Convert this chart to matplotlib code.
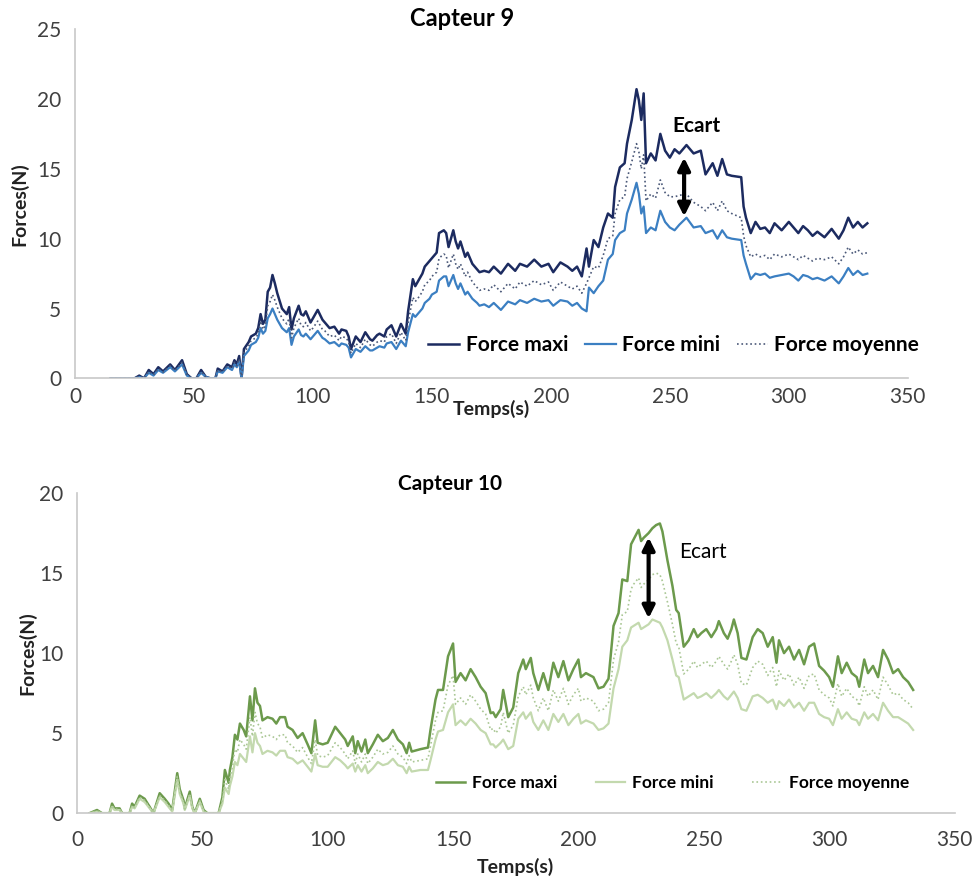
import matplotlib
matplotlib.use("Agg")
import matplotlib.pyplot as plt

plt.rcParams['font.family'] = ['Lato', 'DejaVu Sans']

# ---- DATA : Capteur 9 ----
t9 = [15, 20, 25, 27, 29, 31, 33, 35, 37, 40,
      42, 45, 47, 49, 51, 53, 55, 57, 59, 60,
      62, 64, 66, 67, 68, 69, 70, 71, 73, 74,
      76, 77, 78, 79, 80, 81, 82, 83, 84, 85,
      87, 89, 90, 91, 92, 94, 95, 96, 97, 99,
      100, 102, 104, 105, 107, 109, 111, 112, 114, 115,
      116, 118, 120, 122, 124, 125, 127, 128, 130, 131,
      133, 135, 137, 139, 140, 142, 143, 144, 146, 147,
      149, 150, 152, 153, 155, 156, 157, 159, 160, 161,
      162, 164, 165, 167, 169, 170, 172, 174, 176, 179,
      182, 185, 187, 190, 193, 196, 199, 201, 204, 207,
      209, 211, 213, 215, 216, 218, 220, 222, 224, 226,
      227, 229, 231, 232, 234, 236, 237, 238, 239, 240,
      242, 244, 246, 248, 250, 252, 254, 257, 260, 263,
      265, 268, 270, 272, 274, 276, 280, 281, 282, 284,
      286, 288, 290, 292, 294, 297, 300, 302, 304, 306,
      308, 310, 312, 315, 318, 321, 323, 325, 327, 329,
      331, 333]

maxi9 = [0.0, 0.0, 0.0, 0.2, 0.0, 0.6, 0.3, 0.8, 0.5, 1.0,
         0.6, 1.3, 0.3, 0.0, 0.0, 0.6, 0.1, 0.0, 0.0, 0.7,
         0.5, 1.0, 0.8, 1.3, 1.0, 1.6, 0.0, 2.1, 2.6, 3.0,
         3.2, 3.6, 4.6, 3.9, 4.2, 6.2, 6.5, 7.4, 6.8, 6.1,
         5.0, 4.6, 5.1, 3.5, 4.3, 5.2, 4.6, 4.5, 4.8, 4.0,
         4.3, 4.9, 4.2, 4.0, 3.6, 3.7, 3.2, 3.5, 3.4, 3.0,
         2.1, 3.0, 2.6, 3.3, 2.8, 2.7, 3.1, 3.2, 3.0, 3.5,
         3.8, 3.0, 3.9, 3.2, 4.8, 7.1, 6.6, 6.9, 7.5, 8.0,
         8.4, 8.6, 9.0, 10.4, 10.6, 10.4, 9.4, 10.6, 9.8, 9.3,
         9.8, 8.7, 9.0, 8.2, 7.8, 7.6, 7.7, 7.6, 8.0, 7.5,
         8.2, 7.7, 8.2, 8.0, 8.5, 8.0, 8.2, 7.6, 8.3, 8.0,
         7.7, 8.0, 7.3, 9.3, 8.0, 9.9, 9.4, 10.8, 11.8, 11.5,
         13.7, 15.1, 15.4, 16.8, 18.5, 20.7, 19.9, 18.5, 20.4, 15.4,
         16.1, 15.6, 17.5, 16.3, 15.8, 16.4, 16.1, 16.7, 16.1, 16.3,
         14.6, 15.4, 14.5, 15.7, 14.6, 14.5, 14.4, 12.3, 11.5, 10.4,
         11.2, 10.7, 10.8, 10.4, 11.1, 10.6, 11.2, 10.8, 10.4, 10.9,
         10.6, 10.2, 10.5, 10.1, 10.7, 10.0, 10.6, 11.5, 10.8, 11.2,
         10.8, 11.1]

mini9 = [0.0, 0.0, 0.0, 0.1, 0.0, 0.4, 0.2, 0.6, 0.4, 0.8,
         0.5, 1.0, 0.2, 0.0, 0.0, 0.4, 0.1, 0.0, 0.0, 0.5,
         0.4, 0.8, 0.6, 1.0, 0.8, 1.2, 0.0, 1.6, 2.0, 2.4,
         2.6, 2.9, 3.6, 3.2, 3.4, 4.3, 4.6, 5.0, 4.6, 4.2,
         3.6, 3.3, 3.6, 2.4, 3.0, 3.5, 3.1, 3.0, 3.2, 2.8,
         3.0, 3.4, 2.9, 2.8, 2.5, 2.6, 2.3, 2.5, 2.4, 2.2,
         1.5, 2.1, 1.9, 2.3, 2.0, 2.0, 2.2, 2.3, 2.2, 2.5,
         2.6, 2.1, 2.7, 2.3, 3.3, 4.6, 4.4, 4.6, 5.0, 5.4,
         5.7, 6.0, 6.2, 7.0, 7.3, 7.3, 6.6, 7.4, 6.8, 6.4,
         6.8, 6.0, 6.2, 5.7, 5.4, 5.2, 5.3, 5.1, 5.4, 4.9,
         5.5, 5.3, 5.6, 5.4, 5.7, 5.5, 5.6, 5.2, 5.6, 5.5,
         5.2, 5.4, 5.0, 4.8, 6.5, 6.1, 6.6, 7.0, 8.5, 8.9,
         9.9, 10.4, 10.6, 11.8, 12.8, 14.0, 13.2, 11.8, 12.3, 10.4,
         10.8, 10.6, 12.0, 11.2, 10.8, 10.6, 11.0, 11.5, 10.8, 10.9,
         10.4, 10.6, 10.0, 10.6, 10.1, 10.0, 9.9, 8.8, 8.2, 7.1,
         7.5, 7.4, 7.5, 7.2, 7.3, 7.4, 7.5, 7.3, 7.0, 7.4,
         7.3, 7.1, 7.2, 7.0, 7.3, 6.8, 7.3, 7.9, 7.4, 7.7,
         7.4, 7.5]

moy9 = [0.0, 0.0, 0.0, 0.15, 0.0, 0.5, 0.25, 0.7, 0.45, 0.9,
        0.55, 1.15, 0.25, 0.0, 0.0, 0.5, 0.1, 0.0, 0.0, 0.6,
        0.45, 0.9, 0.7, 1.15, 0.9, 1.4, 0.0, 1.85, 2.3, 2.7,
        2.9, 3.2, 4.1, 3.5, 3.8, 5.2, 5.5, 6.0, 5.6, 5.1,
        4.3, 3.9, 4.3, 2.9, 3.6, 4.3, 3.8, 3.7, 4.0, 3.4,
        3.6, 4.1, 3.5, 3.4, 3.0, 3.1, 2.7, 3.0, 2.9, 2.6,
        1.8, 2.5, 2.2, 2.8, 2.4, 2.3, 2.6, 2.7, 2.6, 3.0,
        3.2, 2.5, 3.3, 2.7, 4.0, 5.8, 5.5, 5.7, 6.2, 6.7,
        7.0, 7.3, 7.6, 8.6, 8.9, 8.8, 7.9, 8.9, 8.2, 7.8,
        8.2, 7.3, 7.6, 6.9, 6.5, 6.3, 6.4, 6.3, 6.7, 6.2,
        6.8, 6.4, 6.9, 6.6, 7.0, 6.7, 6.9, 6.3, 6.9, 6.6,
        6.4, 6.6, 6.1, 6.8, 7.2, 8.0, 7.9, 8.8, 10.0, 10.2,
        11.8, 12.8, 13.0, 14.3, 15.5, 16.8, 16.2, 15.0, 16.0, 12.7,
        13.2, 12.9, 14.2, 13.3, 13.0, 13.0, 13.1, 13.2, 12.6, 12.3,
        12.0, 12.6, 12.0, 12.7, 12.0, 11.8, 11.5, 10.2, 9.5, 8.7,
        8.9, 8.7, 8.8, 8.5, 8.9, 8.7, 8.9, 8.7, 8.5, 8.8,
        8.6, 8.4, 8.6, 8.5, 8.7, 8.2, 8.7, 9.4, 8.9, 9.2,
        8.9, 9.0]

# ---- DATA : Capteur 10 ----
t10 = [5, 8, 10, 13, 14, 15, 17, 18, 21, 22,
       23, 25, 27, 29, 30.5, 33, 35, 36.5, 38, 40,
       41, 42.5, 43, 45, 46, 47, 49, 50.5, 52, 56.5,
       58, 59, 60.5, 61, 62, 63, 64, 65, 66.5, 67.5,
       69, 70, 71, 72, 73, 74, 76, 78, 79.5, 81,
       83, 84, 86, 88, 90, 92, 93.5, 95, 96, 98,
       100, 103, 105, 107, 108, 110, 111, 112, 113.5, 115,
       116, 118, 120, 122, 124, 126, 128, 130, 131.5, 132.5,
       133.5, 137, 140, 141, 143, 144, 146, 148, 150, 151,
       153, 155, 157, 159, 161, 163, 165, 166, 167, 169,
       170, 172, 174, 176, 178, 179, 181, 182, 184, 186,
       188, 190, 192, 194, 196, 198, 200, 201, 203, 206,
       208, 210, 212, 214, 216, 217.5, 219.5, 221, 222, 224,
       225, 226, 228, 229.5, 231, 232.5, 233.5, 235.5, 237.5, 239,
       240, 242, 244, 246, 247.5, 249, 251, 253, 255, 256,
       258, 259.5, 261, 262, 263.5, 265, 267, 269.5, 271.5, 273.5,
       275.5, 277.5, 279, 280, 282, 284, 286, 288, 290, 292,
       294, 296, 298, 300, 301.5, 303.5, 305, 307, 309, 311,
       312, 314, 315.5, 317.5, 319.5, 321.5, 323.5, 325.5, 327.5, 329.5,
       331.5, 333.5]

maxi10 = [0.0, 0.2, 0.0, 0.0, 0.6, 0.3, 0.3, 0.0, 0.0, 0.6,
          0.4, 1.1, 0.9, 0.4, 0.0, 1.25, 0.9, 0.6, 0.2, 2.5,
          1.5, 0.8, 0.3, 1.35, 0.4, 0.0, 0.9, 0.2, 0.0, 0.0,
          1.0, 2.7, 1.9, 2.7, 3.5, 4.9, 4.6, 5.6, 5.2, 4.8,
          7.3, 5.8, 7.8, 6.9, 6.7, 5.8, 6.0, 5.9, 5.6, 6.0,
          6.0, 5.4, 5.2, 4.7, 5.0, 4.3, 3.75, 5.8, 4.4, 4.3,
          4.4, 5.4, 5.0, 4.6, 4.2, 4.8, 3.75, 4.5, 3.85, 4.6,
          3.75, 4.3, 4.9, 4.5, 4.7, 5.2, 4.6, 4.3, 3.75, 4.4,
          3.85, 4.0, 4.1, 5.2, 7.1, 7.7, 7.7, 9.8, 10.6, 8.2,
          8.75, 8.3, 9.0, 8.5, 7.9, 7.5, 6.25, 6.3, 6.0, 6.5,
          7.7, 6.0, 6.6, 8.75, 9.6, 9.0, 9.7, 8.75, 7.7, 8.75,
          7.7, 9.4, 8.5, 9.5, 8.3, 9.0, 9.6, 8.5, 8.75, 8.5,
          7.8, 7.9, 8.4, 11.7, 12.5, 14.6, 14.5, 16.8, 17.1, 17.7,
          17.0, 17.2, 17.5, 17.8, 18.0, 18.1, 17.6, 15.8, 14.2, 12.7,
          12.5, 10.4, 10.8, 11.5, 11.0, 11.25, 11.5, 11.0, 11.5, 12.0,
          11.25, 10.9, 11.5, 12.1, 11.25, 9.7, 9.6, 11.0, 11.5, 11.25,
          10.4, 11.0, 9.4, 10.8, 10.0, 10.4, 9.6, 10.2, 9.3, 10.4,
          10.6, 9.2, 8.9, 8.5, 7.9, 9.8, 8.75, 9.4, 8.75, 8.5,
          7.9, 9.6, 8.75, 9.2, 8.5, 10.2, 9.6, 8.75, 9.0, 8.5,
          8.2, 7.7]

mini10 = [0.0, 0.1, 0.0, 0.0, 0.4, 0.2, 0.2, 0.0, 0.0, 0.4,
          0.3, 0.9, 0.7, 0.3, 0.0, 1.0, 0.7, 0.4, 0.1, 2.1,
          1.2, 0.6, 0.2, 1.1, 0.3, 0.0, 0.7, 0.1, 0.0, 0.0,
          0.6, 1.6, 1.2, 1.7, 2.3, 3.2, 3.0, 3.7, 3.4, 3.2,
          4.8, 3.8, 5.0, 4.4, 4.2, 3.7, 3.9, 3.8, 3.6, 3.9,
          3.9, 3.5, 3.4, 3.1, 3.3, 2.9, 2.6, 3.7, 3.0, 2.9,
          2.9, 3.5, 3.3, 3.0, 2.8, 3.1, 2.6, 3.0, 2.6, 3.0,
          2.5, 2.8, 3.2, 3.0, 3.1, 3.4, 3.0, 2.9, 2.5, 2.9,
          2.6, 2.7, 2.7, 3.3, 4.6, 5.1, 5.2, 6.3, 6.8, 5.5,
          5.8, 5.5, 5.9, 5.6, 5.2, 5.0, 4.3, 4.3, 4.1, 4.4,
          4.6, 4.0, 4.2, 5.9, 6.3, 5.9, 6.3, 5.7, 5.2, 5.8,
          5.2, 6.2, 5.7, 6.2, 5.5, 5.9, 6.2, 5.6, 5.8, 5.6,
          5.2, 5.3, 5.6, 7.8, 9.0, 10.4, 10.8, 11.6, 11.7, 11.9,
          11.5, 11.6, 11.8, 12.1, 12.0, 11.9, 11.6, 10.8, 9.6, 8.6,
          8.5, 7.1, 7.3, 7.5, 7.2, 7.3, 7.5, 7.2, 7.5, 7.7,
          7.3, 7.1, 7.4, 7.6, 7.2, 6.5, 6.4, 7.3, 7.4, 7.2,
          6.9, 7.1, 6.5, 7.0, 6.7, 7.1, 6.6, 6.9, 6.4, 6.9,
          6.9, 6.2, 6.0, 5.9, 5.5, 6.5, 5.9, 6.3, 5.9, 5.8,
          5.5, 6.3, 5.9, 6.2, 5.8, 6.9, 6.4, 6.0, 6.0, 5.8,
          5.6, 5.2]

moy10 = [0.0, 0.15, 0.0, 0.0, 0.5, 0.25, 0.25, 0.0, 0.0, 0.5,
         0.35, 1.0, 0.8, 0.35, 0.0, 1.1, 0.8, 0.5, 0.15, 2.3,
         1.35, 0.7, 0.25, 1.2, 0.35, 0.0, 0.8, 0.15, 0.0, 0.0,
         0.8, 2.1, 1.5, 2.2, 2.9, 4.0, 3.8, 4.6, 4.3, 4.0,
         6.0, 4.8, 6.3, 5.6, 5.4, 4.7, 4.9, 4.8, 4.6, 4.9,
         4.9, 4.4, 4.2, 3.8, 4.1, 3.5, 3.1, 4.6, 3.6, 3.5,
         3.6, 4.4, 4.1, 3.7, 3.4, 3.9, 3.1, 3.7, 3.2, 3.7,
         3.1, 3.5, 4.0, 3.7, 3.8, 4.2, 3.7, 3.5, 3.1, 3.6,
         3.2, 3.3, 3.4, 4.2, 5.8, 6.3, 6.4, 8.0, 8.6, 6.8,
         7.2, 6.8, 7.4, 7.0, 6.5, 6.2, 5.2, 5.3, 5.0, 5.4,
         6.3, 5.0, 5.5, 7.3, 7.9, 7.4, 8.0, 7.2, 6.4, 7.2,
         6.4, 7.7, 7.0, 7.8, 6.8, 7.4, 7.8, 7.0, 7.2, 7.0,
         6.4, 6.5, 6.9, 9.6, 10.7, 12.4, 12.6, 14.0, 14.3, 14.7,
         14.1, 14.3, 14.6, 14.9, 15.0, 14.9, 14.5, 13.2, 11.8, 10.6,
         10.4, 8.7, 9.0, 9.5, 9.1, 9.3, 9.5, 9.1, 9.5, 9.8,
         9.3, 9.0, 9.5, 9.9, 9.3, 8.1, 8.0, 9.1, 9.5, 9.3,
         8.6, 9.1, 7.9, 8.9, 8.3, 8.7, 8.0, 8.5, 7.8, 8.6,
         8.7, 7.7, 7.4, 7.2, 6.7, 8.1, 7.3, 7.8, 7.3, 7.1,
         6.7, 7.9, 7.3, 7.7, 7.1, 8.5, 8.0, 7.4, 7.5, 7.1,
         6.9, 6.5]

labels = ["Force maxi", "Force mini", "Force moyenne"]

# ---- FIGURE ----
fig = plt.figure(figsize=(9.74, 8.82), dpi=100)
ax1 = fig.add_axes([0.077, 0.571, 0.855, 0.396])
ax2 = fig.add_axes([0.079, 0.078, 0.901, 0.363])


def style_axes(ax, ymax, ystep, xpad, xlabelpad, ylabelpad):
    ax.set_xlim(0, 350)
    ax.set_ylim(0, ymax)
    ax.set_xticks(range(0, 351, 50))
    ax.set_yticks(range(0, ymax + 1, ystep))
    for s in ["top", "right"]:
        ax.spines[s].set_visible(False)
    for s in ["left", "bottom"]:
        ax.spines[s].set_color("#c8c8c8")
        ax.spines[s].set_linewidth(1.2)
    ax.tick_params(length=0, labelsize=15, colors="#404040")
    ax.tick_params(axis="x", pad=xpad)
    ax.tick_params(axis="y", pad=10)
    ax.set_ylabel("Forces(N)", fontsize=14, fontweight="bold", color="#222222",
                  labelpad=ylabelpad)
    ax.set_xlabel("Temps(s)", fontsize=14, fontweight="bold", color="#222222",
                  labelpad=xlabelpad)


# ---- Capteur 9 ----
ax1.plot(t9, maxi9, color="#1c2b60", lw=1.8, label=labels[0])
ax1.plot(t9, mini9, color="#3b7fc2", lw=1.6, label=labels[1])
ax1.plot(t9, moy9, color="#4a5878", lw=1.2, ls=":", label=labels[2])
style_axes(ax1, 25, 5, xpad=6, xlabelpad=-5, ylabelpad=6)
ax1.legend(loc="center left", bbox_to_anchor=(0.424, 0.095), ncol=3,
           frameon=False, handlelength=1.5, handletextpad=0.3,
           columnspacing=0.8, borderaxespad=0, borderpad=0,
           prop={"weight": "bold", "size": 15})
ax1.annotate("", xy=(256, 16.0), xytext=(256, 11.4),
             arrowprops=dict(arrowstyle="<|-|>", color="black", lw=3,
                             mutation_scale=18))
ax1.text(261, 18.1, "Ecart", ha="center", va="center", fontsize=15,
         fontweight="bold")
fig.text(0.474, 0.979, "Capteur 9", ha="center", va="center",
         fontsize=17, fontweight="bold")

# ---- Capteur 10 ----
ax2.plot(t10, maxi10, color="#6c9a4c", lw=1.8, label=labels[0])
ax2.plot(t10, mini10, color="#c3d9ae", lw=1.6, label=labels[1])
ax2.plot(t10, moy10, color="#aac795", lw=1.2, ls=":", label=labels[2])
style_axes(ax2, 20, 5, xpad=12, xlabelpad=6, ylabelpad=2)
ax2.legend(loc="center left", bbox_to_anchor=(0.409, 0.094), ncol=3,
           frameon=False, handlelength=1.7, handletextpad=0.4,
           columnspacing=2.2, borderaxespad=0, borderpad=0,
           prop={"weight": "bold", "size": 12.5})
ax2.annotate("", xy=(228, 17.4), xytext=(228, 12.0),
             arrowprops=dict(arrowstyle="<|-|>", color="black", lw=3,
                             mutation_scale=18))
ax2.text(240, 16.3, "Ecart", ha="left", va="center", fontsize=15)
fig.text(0.462, 0.451, "Capteur 10", ha="center", va="center",
         fontsize=15, fontweight="bold")

fig.savefig("out.png", dpi=100)
